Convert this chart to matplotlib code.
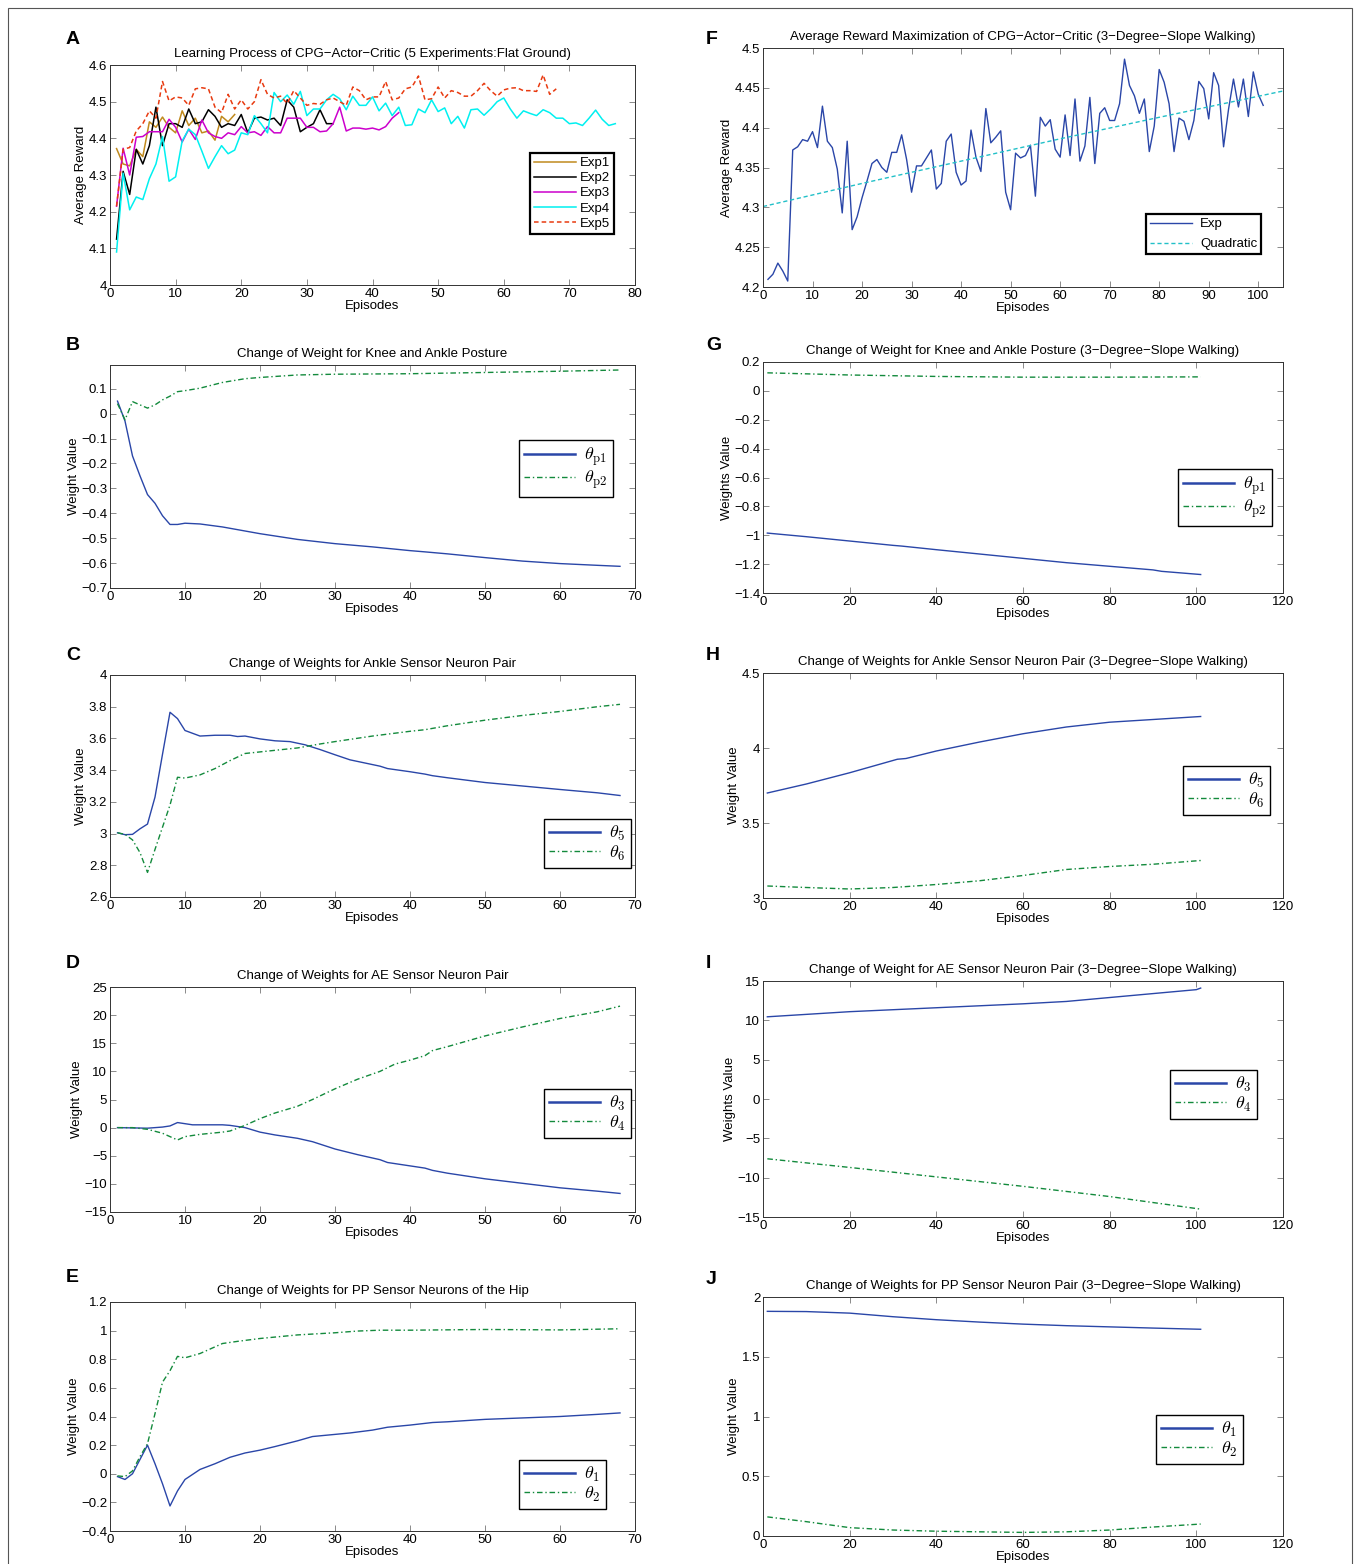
import numpy as np
import matplotlib
matplotlib.use("Agg")
import matplotlib.pyplot as plt
from matplotlib.ticker import FuncFormatter, MultipleLocator
from matplotlib.patches import Rectangle

W, H = 1356, 1564

# ---- panel A: 5 experiments, flat ground ----
exp1 = [4.372, 4.33, 4.325, 4.37, 4.35, 4.445, 4.43, 4.458, 4.43, 4.415, 4.475, 4.435,
        4.455, 4.415, 4.42, 4.395, 4.46, 4.445, 4.465]
exp2 = [4.125, 4.31, 4.247, 4.37, 4.33, 4.38, 4.485, 4.38, 4.44, 4.44, 4.43, 4.48, 4.44,
        4.445, 4.478, 4.46, 4.43, 4.44, 4.435, 4.465, 4.415, 4.455, 4.458, 4.45, 4.455,
        4.435, 4.505, 4.485, 4.418, 4.43, 4.44, 4.478, 4.44, 4.44]
exp3 = [4.215, 4.373, 4.30, 4.403, 4.405, 4.418, 4.418, 4.418, 4.452, 4.43, 4.39, 4.425,
        4.397, 4.45, 4.415, 4.405, 4.40, 4.415, 4.41, 4.432, 4.415, 4.418, 4.408, 4.432,
        4.415, 4.415, 4.455, 4.455, 4.455, 4.43, 4.43, 4.418, 4.42, 4.44, 4.485, 4.42,
        4.428, 4.428, 4.425, 4.428, 4.423, 4.432, 4.455, 4.47]
exp4 = [4.09, 4.305, 4.205, 4.24, 4.233, 4.29, 4.33, 4.405, 4.283, 4.295, 4.393, 4.425,
        4.41, 4.365, 4.318, 4.35, 4.38, 4.358, 4.368, 4.415, 4.41, 4.462, 4.44, 4.415,
        4.525, 4.5, 4.518, 4.493, 4.528, 4.462, 4.48, 4.48, 4.505, 4.52, 4.508, 4.478,
        4.515, 4.49, 4.49, 4.513, 4.475, 4.496, 4.462, 4.485, 4.435, 4.437, 4.48, 4.47,
        4.505, 4.473, 4.483, 4.44, 4.46, 4.428, 4.478, 4.48, 4.463, 4.48, 4.5, 4.51,
        4.48, 4.455, 4.475, 4.468, 4.462, 4.478, 4.47, 4.455, 4.455, 4.44, 4.442, 4.435,
        4.455, 4.477, 4.452, 4.435, 4.44]
exp5 = [4.215, 4.37, 4.375, 4.42, 4.44, 4.475, 4.455, 4.555, 4.502, 4.513, 4.51, 4.49,
        4.535, 4.538, 4.535, 4.485, 4.47, 4.52, 4.48, 4.505, 4.48, 4.50, 4.56, 4.52,
        4.51, 4.515, 4.495, 4.53, 4.51, 4.49, 4.495, 4.493, 4.505, 4.51, 4.50, 4.49,
        4.54, 4.53, 4.505, 4.513, 4.513, 4.555, 4.505, 4.51, 4.535, 4.54, 4.57, 4.505,
        4.508, 4.54, 4.51, 4.53, 4.525, 4.515, 4.515, 4.53, 4.55, 4.53, 4.515, 4.532,
        4.537, 4.538, 4.53, 4.53, 4.528, 4.573, 4.52, 4.535]

# ---- panel F: 3-degree slope ----
slope_exp = [4.2096, 4.216, 4.230, 4.22, 4.2075, 4.372, 4.376, 4.385, 4.383, 4.395,
             4.375, 4.427, 4.383, 4.375, 4.348, 4.293, 4.383, 4.272, 4.288, 4.312,
             4.333, 4.355, 4.36, 4.35, 4.344, 4.369, 4.369, 4.391, 4.36, 4.319,
             4.352, 4.352, 4.362, 4.372, 4.323, 4.33, 4.383, 4.392, 4.344, 4.328,
             4.333, 4.397, 4.363, 4.345, 4.424, 4.381, 4.388, 4.396, 4.319, 4.297,
             4.368, 4.362, 4.365, 4.378, 4.314, 4.413, 4.402, 4.41, 4.373, 4.363,
             4.416, 4.365, 4.436, 4.358, 4.377, 4.438, 4.355, 4.418, 4.425, 4.409,
             4.409, 4.43, 4.486, 4.453, 4.44, 4.418, 4.436, 4.37, 4.402, 4.473,
             4.457, 4.43, 4.37, 4.412, 4.408, 4.385, 4.409, 4.458, 4.449, 4.411,
             4.469, 4.453, 4.376, 4.423, 4.461, 4.426, 4.461, 4.414, 4.47, 4.442, 4.428]
quad_x = [0, 20, 40, 60, 80, 105]
quad_y = [4.301, 4.330, 4.358, 4.386, 4.413, 4.446]

# ---- panel B ----
b_ep = [1, 2, 3, 4, 5, 6, 7, 8, 9, 10, 12, 15, 20, 25, 30, 35, 40, 42, 45, 50, 55, 60, 65, 68]
b_p1 = [0.05, -0.03, -0.17, -0.25, -0.325, -0.36, -0.41, -0.445, -0.445, -0.44, -0.443,
        -0.455, -0.482, -0.505, -0.522, -0.535, -0.55, -0.555, -0.563, -0.578, -0.592,
        -0.602, -0.609, -0.613]
b_ep2 = [1, 2, 3, 4, 5, 6, 7, 8, 9, 10, 12, 15, 18, 20, 25, 30, 40, 50, 60, 68]
b_p2 = [0.04, -0.025, 0.048, 0.035, 0.022, 0.035, 0.055, 0.07, 0.088, 0.092, 0.102,
        0.125, 0.14, 0.145, 0.155, 0.158, 0.16, 0.165, 0.17, 0.175]

# ---- panel C ----
c_ep5 = [1, 2, 3, 4, 5, 6, 7, 8, 9, 10, 12, 14, 16, 17, 18, 20, 22, 24, 26, 28, 30, 32,
         34, 36, 37, 40, 42, 43, 45, 50, 55, 60, 65, 68]
c_t5 = [3.005, 2.993, 2.995, 3.03, 3.06, 3.23, 3.5, 3.765, 3.725, 3.65, 3.615, 3.62, 3.62,
        3.612, 3.615, 3.597, 3.585, 3.58, 3.56, 3.53, 3.497, 3.465, 3.445, 3.425, 3.41,
        3.39, 3.375, 3.365, 3.352, 3.322, 3.3, 3.278, 3.257, 3.24]
c_ep6 = [1, 2, 3, 4, 5, 6, 7, 8, 9, 10, 12, 14, 16, 18, 20, 22, 25, 28, 30, 35, 40, 42,
         45, 50, 55, 60, 65, 68]
c_t6 = [3.005, 2.995, 2.96, 2.88, 2.755, 2.9, 3.04, 3.18, 3.355, 3.35, 3.37, 3.41, 3.46,
        3.505, 3.515, 3.525, 3.54, 3.565, 3.58, 3.615, 3.645, 3.655, 3.68, 3.715, 3.745,
        3.77, 3.8, 3.815]

# ---- panel D ----
d_ep3 = [1, 5, 7, 8, 9, 10, 11, 15, 16, 18, 20, 22, 25, 27, 30, 33, 36, 37, 40, 42, 43,
         45, 50, 55, 60, 65, 68]
d_t3 = [0, -0.1, 0.1, 0.3, 0.9, 0.7, 0.5, 0.5, 0.4, 0, -0.8, -1.3, -1.9, -2.5, -3.8,
        -4.8, -5.7, -6.2, -6.8, -7.2, -7.6, -8.1, -9.1, -9.9, -10.7, -11.3, -11.7]
d_ep4 = [1, 3, 5, 7, 9, 10, 12, 15, 16, 17, 18, 20, 22, 25, 27, 30, 33, 36, 38, 40, 42,
         43, 45, 50, 55, 60, 65, 68]
d_t4 = [0, 0, -0.3, -1.0, -2.2, -1.6, -1.2, -0.8, -0.6, -0.1, 0.4, 1.6, 2.6, 3.8, 5.0,
        6.9, 8.6, 10.0, 11.3, 12.0, 12.8, 13.7, 14.4, 16.3, 17.9, 19.4, 20.6, 21.6]

# ---- panel E ----
e_ep1 = [1, 2, 3, 4, 5, 6, 7, 8, 9, 10, 12, 14, 16, 18, 20, 22, 25, 27, 30, 32, 35, 37,
         40, 43, 45, 50, 55, 60, 65, 68]
e_t1 = [-0.02, -0.04, 0.0, 0.1, 0.2, 0.07, -0.07, -0.225, -0.12, -0.04, 0.03, 0.07,
        0.115, 0.145, 0.165, 0.19, 0.23, 0.26, 0.275, 0.285, 0.305, 0.325, 0.34, 0.358,
        0.363, 0.38, 0.39, 0.4, 0.415, 0.425]
e_ep2 = [1, 2, 3, 4, 5, 6, 7, 8, 9, 10, 12, 15, 17, 20, 22, 25, 30, 33, 36, 40, 50, 60, 68]
e_t2 = [-0.015, -0.02, 0.02, 0.12, 0.21, 0.42, 0.64, 0.72, 0.82, 0.81, 0.84, 0.91, 0.925,
        0.945, 0.955, 0.97, 0.985, 0.997, 1.003, 1.003, 1.008, 1.005, 1.013]

# ---- panels G-J (slope walking) ----
g_ep1 = [1, 10, 20, 30, 32, 40, 50, 60, 70, 80, 90, 92, 101]
g_p1 = [-0.985, -1.01, -1.04, -1.07, -1.075, -1.1, -1.13, -1.16, -1.19, -1.215, -1.24,
        -1.25, -1.272]
g_ep2 = [1, 10, 20, 30, 40, 60, 80, 101]
g_p2 = [0.125, 0.118, 0.11, 0.105, 0.1, 0.095, 0.095, 0.097]

h_ep5 = [1, 10, 20, 31, 33, 40, 50, 60, 70, 80, 90, 101]
h_t5 = [3.70, 3.76, 3.835, 3.925, 3.93, 3.98, 4.04, 4.095, 4.14, 4.172, 4.19, 4.21]
h_ep6 = [1, 10, 20, 30, 40, 50, 60, 70, 80, 90, 101]
h_t6 = [3.08, 3.07, 3.06, 3.07, 3.09, 3.115, 3.15, 3.19, 3.21, 3.225, 3.25]

i_ep3 = [1, 20, 40, 60, 70, 80, 90, 100, 101]
i_t3 = [10.45, 11.1, 11.6, 12.1, 12.4, 12.9, 13.4, 13.9, 14.1]
i_ep4 = [1, 20, 40, 60, 80, 101]
i_t4 = [-7.6, -8.7, -9.9, -11.1, -12.4, -14.0]

j_ep1 = [1, 10, 20, 30, 40, 50, 60, 70, 80, 90, 101]
j_t1 = [1.88, 1.878, 1.865, 1.835, 1.81, 1.79, 1.773, 1.76, 1.75, 1.74, 1.73]
j_ep2 = [1, 10, 20, 30, 40, 60, 70, 80, 90, 101]
j_t2 = [0.16, 0.12, 0.07, 0.05, 0.04, 0.03, 0.035, 0.05, 0.075, 0.1]

BLUE = "#2a46a8"
GREEN = "#138a3c"
FS = 9.5

plt.rcParams["font.family"] = ["Liberation Sans", "DejaVu Sans"]
plt.rcParams["mathtext.fontset"] = "cm"
plt.rcParams["axes.unicode_minus"] = True

fig = plt.figure(figsize=(W / 100, H / 100), dpi=100)
fig.add_artist(Rectangle((8 / W, -0.01), 1 - 12 / W, 1 - 8 / H + 0.01, transform=fig.transFigure,
                         fill=False, edgecolor="#555555", linewidth=0.8))


def fmt(v, pos):
    return ("%g" % round(v, 6)).replace("-", "\u2212")


def make_ax(left, right, top, bottom):
    ax = fig.add_axes([left / W, 1 - bottom / H, (right - left) / W, (bottom - top) / H])
    ax.tick_params(direction="in", top=True, right=True, labelsize=FS, length=4,
                   width=0.6, color="#777777", pad=2)
    for s in ax.spines.values():
        s.set_linewidth(0.7)
        s.set_color("#333333")
    ax.xaxis.set_major_formatter(FuncFormatter(fmt))
    ax.yaxis.set_major_formatter(FuncFormatter(fmt))
    ax.set_xlabel("Episodes", fontsize=FS, labelpad=0)
    return ax


def add_legend(ax, handles, labels, x0, y0, fs=FS, hl=2.6, ls=0.0, htp=0.5):
    leg = ax.legend(handles, labels, loc="upper left", bbox_to_anchor=(x0 / W, 1 - y0 / H),
                    bbox_transform=fig.transFigure, fontsize=fs, frameon=True, fancybox=False,
                    framealpha=1, edgecolor="black", borderpad=0.3, handlelength=hl,
                    labelspacing=ls, handletextpad=htp, borderaxespad=0)
    leg.get_frame().set_linewidth(1.0)
    return leg


def letter(txt, x, y):
    fig.text(x / W, 1 - y / H, txt, fontsize=14, fontweight="bold", va="center", ha="left")


# A
ax = make_ax(110, 635, 65, 285)
l1, = ax.plot(np.arange(1, len(exp1) + 1), exp1, color="#c08a1e", lw=1.1)
l2, = ax.plot(np.arange(1, len(exp2) + 1), exp2, color="black", lw=1.1)
l3, = ax.plot(np.arange(1, len(exp3) + 1), exp3, color="#cc00cc", lw=1.1)
l4, = ax.plot(np.arange(1, len(exp4) + 1), exp4, color="#00f0f0", lw=1.1)
l5, = ax.plot(np.arange(1, len(exp5) + 1), exp5, color="#e83a10", lw=1.1, ls=(0, (3, 2)))
ax.set_xlim(0, 80)
ax.set_ylim(4, 4.6)
ax.yaxis.set_major_locator(MultipleLocator(0.1))
ax.set_title("Learning Process of CPG\u2212Actor\u2212Critic (5 Experiments:Flat Ground)",
             fontsize=FS, pad=6)
ax.set_ylabel("Average Reward", fontsize=FS, labelpad=1)
leg = add_legend(ax, [l1, l2, l3, l4, l5], ["Exp1", "Exp2", "Exp3", "Exp4", "Exp5"], 530, 153,
                 hl=3.2, ls=0.22, htp=0.3)
leg.get_frame().set_linewidth(1.6)
for h in leg.legend_handles:
    h.set_linewidth(1.1)
letter("A", 66, 40)

# F
ax = make_ax(763, 1283, 48, 287)
lf1, = ax.plot(np.arange(1, len(slope_exp) + 1), slope_exp, color=BLUE, lw=1.0)
lf2, = ax.plot(quad_x, quad_y, color="#22c0c8", lw=1.0, ls=(0, (3, 2)))
ax.set_xlim(0, 105)
ax.set_ylim(4.2, 4.5)
ax.xaxis.set_major_locator(MultipleLocator(10))
ax.yaxis.set_major_locator(MultipleLocator(0.05))
ax.set_title("Average Reward Maximization of CPG\u2212Actor\u2212Critic (3\u2212Degree\u2212Slope Walking)",
             fontsize=FS, pad=6)
ax.set_ylabel("Average Reward", fontsize=FS, labelpad=1)
leg = add_legend(ax, [lf1, lf2], ["Exp", "Quadratic"], 1146, 214, hl=3.2, ls=0.6, htp=0.6)
leg.get_frame().set_linewidth(1.6)
letter("F", 706, 40)

# weight panels: (letter, lx, ly, box, xlim, ylim, step, title, ylabel, series, labels, legend pos)
panels = [
    ("B", 66, 345, (110, 635, 365, 588), (0, 70), (-0.7, 0.195), 0.1,
     "Change of Weight for Knee and Ankle Posture", "Weight Value",
     [(b_ep, b_p1), (b_ep2, b_p2)], [r"$\theta_{\mathrm{p1}}$", r"$\theta_{\mathrm{p2}}$"], (519, 440)),
    ("C", 66, 656, (110, 635, 675, 897), (0, 70), (2.6, 4.0), 0.2,
     "Change of Weights for Ankle Sensor Neuron Pair", "Weight Value",
     [(c_ep5, c_t5), (c_ep6, c_t6)], [r"$\theta_5$", r"$\theta_6$"], (544, 819)),
    ("D", 66, 963, (110, 635, 987, 1212), (0, 70), (-15, 25), 5,
     "Change of Weights for AE Sensor Neuron Pair", "Weight Value",
     [(d_ep3, d_t3), (d_ep4, d_t4)], [r"$\theta_3$", r"$\theta_4$"], (544, 1089)),
    ("E", 66, 1278, (110, 635, 1302, 1531), (0, 70), (-0.4, 1.2), 0.2,
     "Change of Weights for PP Sensor Neurons of the Hip", "Weight Value",
     [(e_ep1, e_t1), (e_ep2, e_t2)], [r"$\theta_1$", r"$\theta_2$"], (519, 1460)),
    ("G", 706, 345, (763, 1283, 362, 593), (0, 120), (-1.4, 0.2), 0.2,
     "Change of Weight for Knee and Ankle Posture (3\u2212Degree\u2212Slope Walking)", "Weights Value",
     [(g_ep1, g_p1), (g_ep2, g_p2)], [r"$\theta_{\mathrm{p1}}$", r"$\theta_{\mathrm{p2}}$"], (1178, 469)),
    ("H", 706, 656, (763, 1283, 673, 898), (0, 120), (3, 4.5), 0.5,
     "Change of Weights for Ankle Sensor Neuron Pair (3\u2212Degree\u2212Slope Walking)", "Weight Value",
     [(h_ep5, h_t5), (h_ep6, h_t6)], [r"$\theta_5$", r"$\theta_6$"], (1183, 766)),
    ("I", 706, 963, (763, 1283, 981, 1217), (0, 120), (-15, 15), 5,
     "Change of Weight for AE Sensor Neuron Pair (3\u2212Degree\u2212Slope Walking)", "Weights Value",
     [(i_ep3, i_t3), (i_ep4, i_t4)], [r"$\theta_3$", r"$\theta_4$"], (1170, 1070)),
    ("J", 706, 1280, (763, 1283, 1297, 1536), (0, 120), (0, 2), 0.5,
     "Change of Weights for PP Sensor Neuron Pair (3\u2212Degree\u2212Slope Walking)", "Weight Value",
     [(j_ep1, j_t1), (j_ep2, j_t2)], [r"$\theta_1$", r"$\theta_2$"], (1156, 1415)),
]

for lt, lx, ly, box, xl, yl, step, title, ylab, series, labels, lpos in panels:
    ax = make_ax(*box)
    (x1, y1), (x2, y2) = series
    h1, = ax.plot(x1, y1, color=BLUE, lw=1.0)
    h2, = ax.plot(x2, y2, color=GREEN, lw=1.0, ls=(0, (4, 2, 1, 2)))
    ax.set_xlim(*xl)
    ax.set_ylim(*yl)
    ax.yaxis.set_major_locator(MultipleLocator(step))
    ax.xaxis.set_major_locator(MultipleLocator(10 if xl[1] == 70 else 20))
    ax.set_title(title, fontsize=FS, pad=6)
    ax.set_ylabel(ylab, fontsize=FS, labelpad=1)
    leg = add_legend(ax, [h1, h2], labels, lpos[0], lpos[1], fs=13, hl=2.8)
    leg.legend_handles[0].set_linewidth(1.8)
    letter(lt, lx, ly)

fig.savefig("out.png", dpi=100)
